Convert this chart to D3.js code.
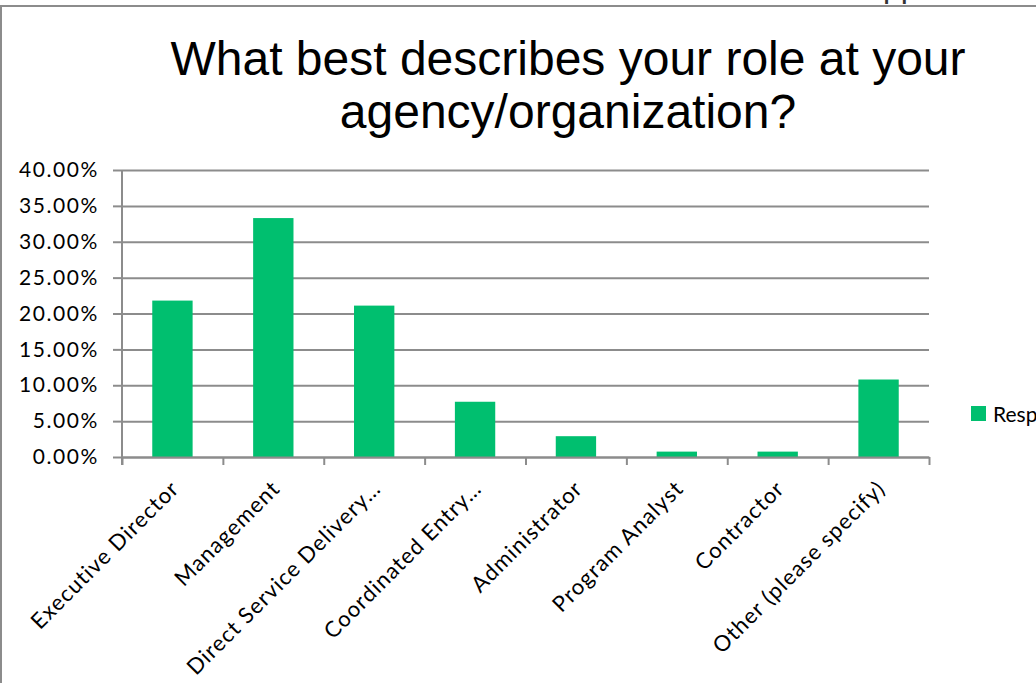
<!DOCTYPE html>
<html>
<head>
<meta charset="utf-8">
<script src="https://cdn.jsdelivr.net/npm/d3@7"></script>
<style>
  html, body { margin: 0; padding: 0; background: #fff; overflow: hidden; }
  svg { display: block; }
</style>
</head>
<body>
<svg id="chart" width="1036" height="683"></svg>
<script>
// Survey question and answer categories
const titleLines = ["What best describes your role at your", "agency/organization?"];
const categories = [
  "Executive Director",
  "Management",
  "Direct Service Delivery…",
  "Coordinated Entry…",
  "Administrator",
  "Program Analyst",
  "Contractor",
  "Other (please specify)"
];
// Share of responses per role
const responses = [0.218, 0.333, 0.211, 0.077, 0.029, 0.0075, 0.0075, 0.108];
const yTicks = [0, 0.05, 0.10, 0.15, 0.20, 0.25, 0.30, 0.35, 0.40];
const seriesName = "Responses";

(function draw() {
  const svg = d3.select("#chart");
  const W = 1036, H = 683;
  const plotLeft = 122, plotRight = 929, plotTop = 170, plotBottom = 457;
  const green = "#00bf6f";
  const grid = "#8c8c8c";
  const labelFont = "Lato, 'Open Sans', sans-serif";

  // Outer frame of the chart area
  svg.append("rect")
    .attr("x", 1).attr("y", 6)
    .attr("width", W + 40).attr("height", H + 40)
    .attr("fill", "#fff")
    .attr("stroke", grid).attr("stroke-width", 2);

  // Heading text running above the frame (only its descenders show)
  svg.append("text")
    .attr("x", 883).attr("y", -3.5)
    .attr("font-family", "'Liberation Sans', Arial, sans-serif")
    .attr("font-size", 32)
    .attr("fill", "#333")
    .text("pp");

  // Title
  svg.append("g").selectAll("text")
    .data(titleLines)
    .join("text")
    .attr("x", 568)
    .attr("y", (d, i) => 75 + i * 53)
    .attr("text-anchor", "middle")
    .attr("font-family", "'Liberation Sans', Arial, sans-serif")
    .attr("font-size", 48)
    .attr("fill", "#000")
    .text(d => d);

  const x = d3.scaleBand()
    .domain(categories)
    .range([plotLeft, plotRight])
    .paddingInner(0.6)
    .paddingOuter(0.3);

  const y = d3.scaleLinear().domain([0, 0.4]).range([plotBottom, plotTop]);

  // Horizontal gridlines
  svg.append("g")
    .attr("transform", `translate(${plotLeft},0)`)
    .call(d3.axisLeft(y).tickValues(yTicks).tickSize(-(plotRight - plotLeft)).tickFormat(""))
    .call(g => g.select(".domain").remove())
    .call(g => g.selectAll("line").attr("stroke", grid).attr("stroke-width", 2));

  // Bars
  svg.append("g").selectAll("rect")
    .data(responses)
    .join("rect")
    .attr("x", (d, i) => x(categories[i]))
    .attr("width", x.bandwidth())
    .attr("y", d => y(d))
    .attr("height", d => y(0) - y(d))
    .attr("fill", green);

  // Y axis with percentage labels
  const yAxis = svg.append("g")
    .attr("transform", `translate(${plotLeft},0)`)
    .call(d3.axisLeft(y).tickValues(yTicks).tickFormat(d3.format(".2%")).tickSize(9).tickPadding(14).tickSizeOuter(0));
  yAxis.select(".domain").attr("stroke", grid).attr("stroke-width", 2)
    .attr("d", `M0,${plotTop}V${plotBottom + 8}`);
  yAxis.selectAll("line").attr("stroke", grid).attr("stroke-width", 2);
  yAxis.selectAll("text")
    .attr("font-family", labelFont)
    .attr("font-size", 21)
    .attr("letter-spacing", "1.6px")
    .attr("fill", "#000");

  // X axis: baseline plus tick marks between categories
  const bounds = d3.scaleLinear().domain([0, categories.length]).range([plotLeft, plotRight]);
  const xAxis = svg.append("g")
    .attr("transform", `translate(0,${plotBottom})`)
    .call(d3.axisBottom(bounds).tickValues(d3.range(categories.length + 1)).tickSize(8).tickFormat("").tickSizeOuter(0));
  xAxis.select(".domain").attr("stroke", grid).attr("stroke-width", 2);
  xAxis.selectAll("line").attr("stroke", grid).attr("stroke-width", 2);

  // Rotated category labels
  svg.append("g").selectAll("text")
    .data(categories)
    .join("text")
    .attr("transform", d => `translate(${x(d) + x.bandwidth() / 2 + 8},${plotBottom + 33}) rotate(-45)`)
    .attr("text-anchor", "end")
    .attr("font-family", labelFont)
    .attr("font-size", 22)
    .attr("letter-spacing", "1.1px")
    .attr("fill", "#000")
    .text(d => d);

  // Legend
  const legend = svg.append("g").attr("transform", "translate(971,406)");
  legend.append("rect").attr("width", 15).attr("height", 15).attr("fill", green);
  legend.append("text")
    .attr("x", 22).attr("y", 15.5)
    .attr("font-family", labelFont)
    .attr("font-size", 21)
    .attr("fill", "#000")
    .text(seriesName);
})();
</script>
</body>
</html>
